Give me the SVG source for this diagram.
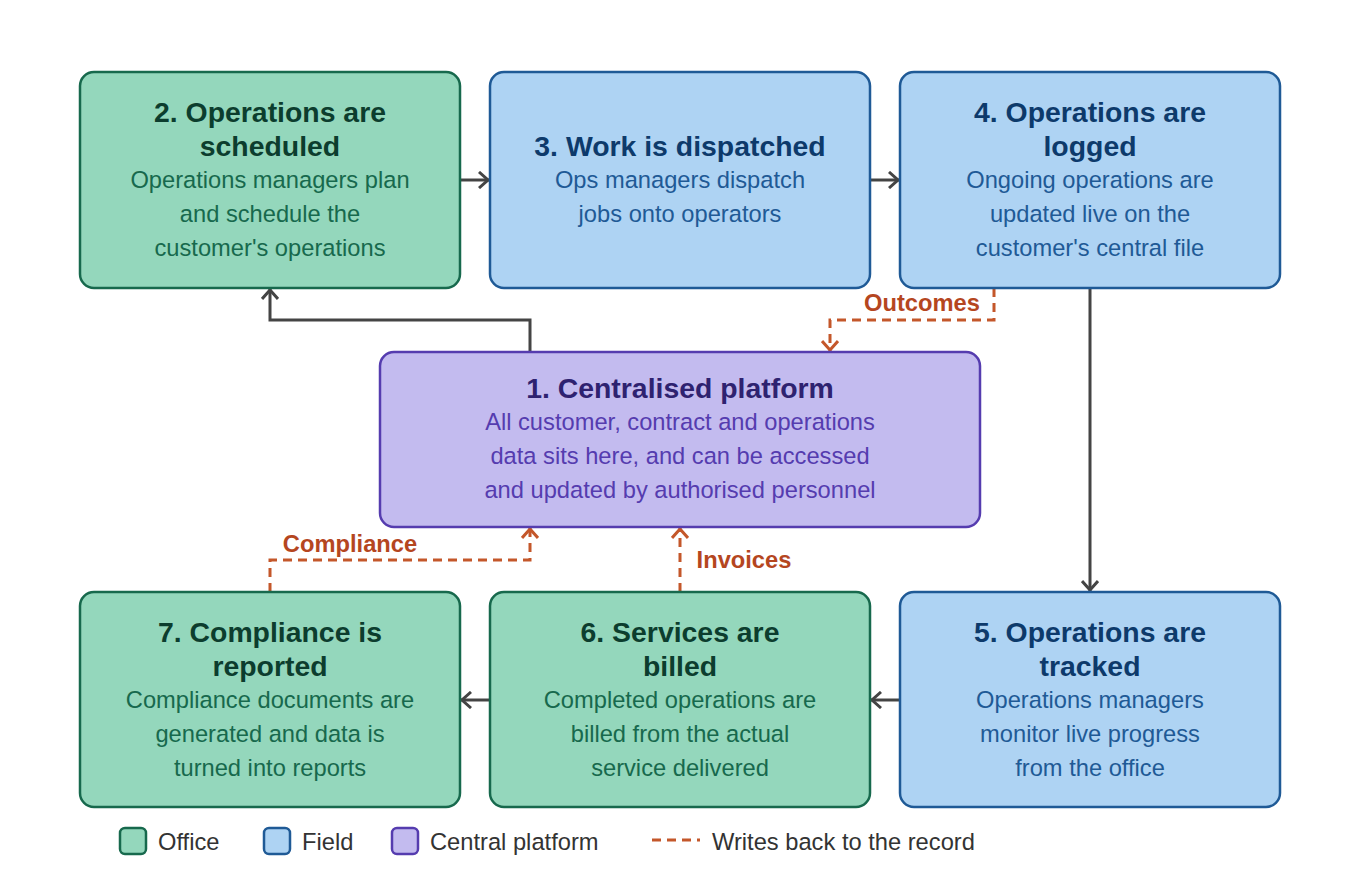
<svg xmlns="http://www.w3.org/2000/svg" width="1360" height="896" viewBox="0 0 1360 896">
<style>
text{font-family:"Liberation Sans",Arial,sans-serif;text-anchor:middle}
.t{font-size:28.4px;font-weight:bold}
.b{font-size:23.7px}
.g rect{fill:#94d7bc;stroke:#17694d;stroke-width:2.5}
.g .t{fill:#0c3d2e}.g .b{fill:#17694d}
.f rect{fill:#aed3f3;stroke:#1f5a96;stroke-width:2.5}
.f .t{fill:#0d3a6b}.f .b{fill:#1f5a96}
.p rect{fill:#c3bbef;stroke:#553caf;stroke-width:2.5}
.p .t{fill:#2e2270}.p .b{fill:#553caf}
.c{fill:none;stroke:#444;stroke-width:3;marker-end:url(#a)}
.d{fill:none;stroke:#c4572a;stroke-width:3;stroke-dasharray:9 6;marker-end:url(#o)}
.l{font-size:23.7px;font-weight:bold;fill:#b5461f}
.lg{font-size:23.7px;fill:#333;text-anchor:start}
</style>
<defs>
<marker id="a" viewBox="0 0 13 18" refX="12" refY="9" markerWidth="13" markerHeight="18" markerUnits="userSpaceOnUse" orient="auto"><path d="M2,1 L11,9 L2,17" fill="none" stroke="#444" stroke-width="3"/></marker>
<marker id="o" viewBox="0 0 13 18" refX="12" refY="9" markerWidth="13" markerHeight="18" markerUnits="userSpaceOnUse" orient="auto"><path d="M2,1 L11,9 L2,17" fill="none" stroke="#c4572a" stroke-width="3"/></marker>
</defs>
<rect width="1360" height="896" fill="#fff"/>
<g id="connectors">
<path class="c" d="M460,180 H489"/>
<path class="c" d="M870,180 H899"/>
<path class="c" d="M530,352 V320 H270 V289"/>
<path class="c" d="M1090,288 V591"/>
<path class="c" d="M900,700 H871"/>
<path class="c" d="M490,700 H461"/>
<path class="d" d="M994,288 V320 H830 V351"/>
<path class="d" d="M270,592 V560 H530 V528"/>
<path class="d" d="M680,592 V528"/>
<text class="l" x="922" y="311">Outcomes</text>
<text class="l" x="350" y="552">Compliance</text>
<text class="l" x="744" y="568">Invoices</text>
</g>
<g id="n2" class="g"><rect x="80" y="72" width="380" height="216" rx="14"/><text class="t" x="270" y="122">2. Operations are</text><text class="t" x="270" y="156">scheduled</text><text class="b" x="270" y="188">Operations managers plan</text><text class="b" x="270" y="222">and schedule the</text><text class="b" x="270" y="256">customer's operations</text></g>
<g id="n3" class="f"><rect x="490" y="72" width="380" height="216" rx="14"/><text class="t" x="680" y="156">3. Work is dispatched</text><text class="b" x="680" y="188">Ops managers dispatch</text><text class="b" x="680" y="222">jobs onto operators</text></g>
<g id="n4" class="f"><rect x="900" y="72" width="380" height="216" rx="14"/><text class="t" x="1090" y="122">4. Operations are</text><text class="t" x="1090" y="156">logged</text><text class="b" x="1090" y="188">Ongoing operations are</text><text class="b" x="1090" y="222">updated live on the</text><text class="b" x="1090" y="256">customer's central file</text></g>
<g id="n1" class="p"><rect x="380" y="352" width="600" height="175" rx="14"/><text class="t" x="680" y="398">1. Centralised platform</text><text class="b" x="680" y="430">All customer, contract and operations</text><text class="b" x="680" y="464">data sits here, and can be accessed</text><text class="b" x="680" y="498">and updated by authorised personnel</text></g>
<g id="n7" class="g"><rect x="80" y="592" width="380" height="215" rx="14"/><text class="t" x="270" y="642">7. Compliance is</text><text class="t" x="270" y="676">reported</text><text class="b" x="270" y="708">Compliance documents are</text><text class="b" x="270" y="742">generated and data is</text><text class="b" x="270" y="776">turned into reports</text></g>
<g id="n6" class="g"><rect x="490" y="592" width="380" height="215" rx="14"/><text class="t" x="680" y="642">6. Services are</text><text class="t" x="680" y="676">billed</text><text class="b" x="680" y="708">Completed operations are</text><text class="b" x="680" y="742">billed from the actual</text><text class="b" x="680" y="776">service delivered</text></g>
<g id="n5" class="f"><rect x="900" y="592" width="380" height="215" rx="14"/><text class="t" x="1090" y="642">5. Operations are</text><text class="t" x="1090" y="676">tracked</text><text class="b" x="1090" y="708">Operations managers</text><text class="b" x="1090" y="742">monitor live progress</text><text class="b" x="1090" y="776">from the office</text></g>
<g id="legend">
<rect x="120" y="828" width="26" height="26" rx="5" fill="#94d7bc" stroke="#17694d" stroke-width="2.5"/><text class="lg" x="158" y="850">Office</text>
<rect x="264" y="828" width="26" height="26" rx="5" fill="#aed3f3" stroke="#1f5a96" stroke-width="2.5"/><text class="lg" x="302" y="850">Field</text>
<rect x="392" y="828" width="26" height="26" rx="5" fill="#c3bbef" stroke="#553caf" stroke-width="2.5"/><text class="lg" x="430" y="850">Central platform</text>
<path d="M652,840 H700" stroke="#c4572a" stroke-width="3" stroke-dasharray="9 6"/><text class="lg" x="712" y="850">Writes back to the record</text>
</g>
</svg>
